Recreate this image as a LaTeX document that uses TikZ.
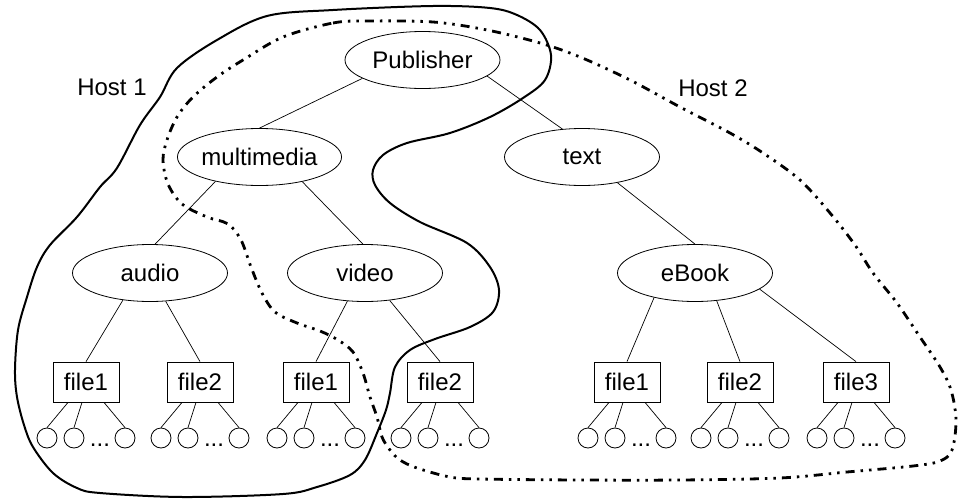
\documentclass[tikz,border=0pt]{standalone}
\usepackage{fontspec}
\setmainfont{Liberation Sans}
\usetikzlibrary{shapes.geometric}
\tikzset{
  elli/.style={draw, ellipse, minimum width=155pt, minimum height=57pt, inner sep=0pt, line width=0.8pt, font=\fontsize{24}{28}\selectfont},
  filebox/.style={draw, rectangle, minimum width=66pt, minimum height=40pt, inner sep=0pt, line width=0.8pt, font=\fontsize{24}{28}\selectfont},
  leaf/.style={draw, circle, minimum size=20pt, inner sep=0pt, line width=0.8pt},
  edge/.style={line width=0.7pt},
  lbl/.style={font=\fontsize{24}{28}\selectfont, inner sep=0pt},
  dotsl/.style={font=\fontsize{24}{28}\selectfont, inner sep=0pt, anchor=base},
  hostone/.style={line width=2pt},
  hosttwo/.style={line width=2.8pt, dash pattern=on 9pt off 6pt on 2.5pt off 6pt on 2.5pt off 6pt}
}
\newcommand\myleaves[2]{%
  \node[leaf] (#1a) at ({#2-39},438) {};
  \node[leaf] (#1b) at ({#2-12},438) {};
  \node[leaf] (#1c) at ({#2+39},438) {};
  \node[dotsl] (#1d) at ({#2+14},446) {...};
  \draw[edge] ([xshift=-18pt]#1.south) -- (#1a.north);
  \draw[edge] ([xshift=-4pt]#1.south) -- (#1b.north);
  \draw[edge] ([xshift=18pt]#1.south) -- (#1c.north);
}
\begin{document}
\begin{tikzpicture}[x=1pt,y=-1pt]
\useasboundingbox (0,0) rectangle (958,498);
% nodes
\node[elli] (pub) at (422.5,60) {Publisher};
\node[elli] (mm) at (259.5,157) {multimedia};
\node[elli] (txt) at (582,157) {text};
\node[elli] (aud) at (150,273) {audio};
\node[elli] (vid) at (365,273) {video};
\node[elli] (ebk) at (695,273) {eBook};
\node[filebox] (fa1) at (86,382) {file1};
\node[filebox] (fa2) at (200,382) {file2};
\node[filebox] (fv1) at (316,382) {file1};
\node[filebox] (fv2) at (440,382) {file2};
\node[filebox] (fe1) at (627,382) {file1};
\node[filebox] (fe2) at (740,382) {file2};
\node[filebox] (fe3) at (856,382) {file3};
\node[lbl] (h1) at (112,87) {Host 1};
\node[lbl] (h2) at (713,88) {Host 2};
% edges
\draw[edge] (pub.197) -- (mm.north);
\draw[edge] (pub.346) -- (txt.125);
\draw[edge] (mm.209) -- (aud.80);
\draw[edge] (mm.330) -- (vid.94);
\draw[edge] (aud.225) -- (fa1.north);
\draw[edge] (aud.299) -- (fa2.north);
\draw[edge] (vid.238) -- (fv1.north);
\draw[edge] (vid.312) -- (fv2.north);
\draw[edge] (txt.324) -- (ebk.north);
\draw[edge] (ebk.211) -- (fe1.north);
\draw[edge] (ebk.308) -- (fe2.north);
\draw[edge] (ebk.346) -- (fe3.north);
% leaves
\myleaves{fa1}{86}
\myleaves{fa2}{200}
\myleaves{fv1}{316}
\myleaves{fv2}{440}
\myleaves{fe1}{627}
\myleaves{fe2}{740}
\myleaves{fe3}{856}
% Host 1 boundary
\draw[hostone] plot[smooth cycle, tension=0.55] coordinates {
 (333,10) (433,6) (490,8) (517,15) (540,30) (551,55) (545,80) (523,98)
 (490,117) (450,133) (407,143) (383,155) (373,170) (375,185) (390,203)
 (420,222) (467,243) (490,267) (499,290) (493,312) (470,327) (435,339)
 (410,350) (395,367) (390,393) (386,410) (377,433) (365,460) (350,475)
 (317,487) (283,494) (183,497) (100,493) (77,488) (53,473) (33,447)
 (24,425) (17,397) (15,370) (18,330) (27,297) (37,267) (50,245)
 (77,217) (100,187) (117,168) (140,125) (160,97) (177,68) (217,40) (267,16)};
% Host 2 boundary
\draw[hosttwo] plot[smooth cycle, tension=0.55] coordinates {
 (283,37) (333,23) (367,21) (433,22) (487,30) (540,43) (580,57) (630,80)
 (680,107) (730,133) (763,153) (800,180) (830,213) (855,245) (873,273)
 (897,303) (920,337) (940,367) (951,390) (956,420) (952,450) (940,461)
 (913,466) (847,472) (780,478) (680,480) (580,480) (480,479) (450,477)
 (417,468) (400,460) (390,450) (382,437) (377,417) (370,397) (363,373)
 (353,352) (338,340) (320,331) (297,323) (275,312) (262,293) (251,267)
 (241,240) (228,224) (207,217) (182,204) (168,184) (163,160) (167,140)
 (177,117) (193,97) (217,77) (243,60)};
\end{tikzpicture}
\end{document}
